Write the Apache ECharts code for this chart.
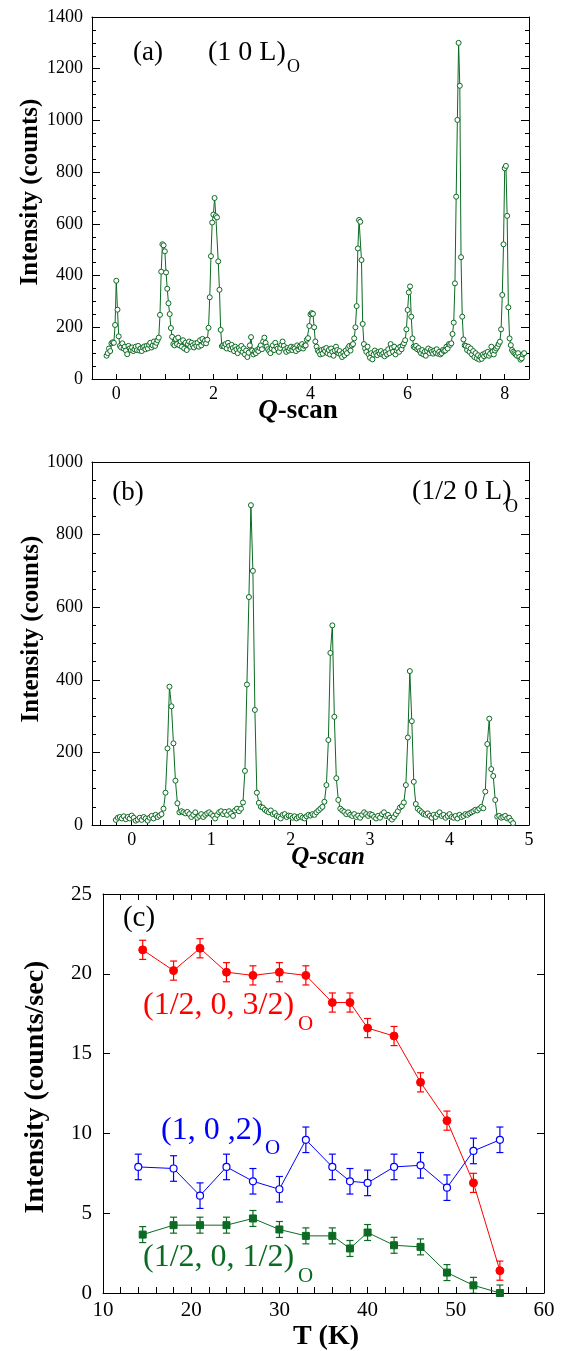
<!DOCTYPE html>
<html><head><meta charset="utf-8">
<script src="https://cdn.jsdelivr.net/npm/echarts@6/dist/echarts.min.js"></script>
<style>html,body{margin:0;padding:0;background:#fff}#c{width:565px;height:1351px}</style>
</head><body><div id="c"></div>
<script>
// ---------- Panel (a): (1 0 L)_O scan ----------
const scanA_qStart = -0.2;
const scanA_qStep = 0.025;
const scanA_counts = [
 90,100,118,108,138,142,140,209,380,268,165,128,122,138,118,125,110,96,128,118,
 112,122,108,115,125,112,128,110,118,108,122,126,115,128,118,132,140,122,130,145,
 128,140,150,160,248,415,521,517,494,412,349,293,251,197,163,135,130,155,135,160,
 130,145,125,150,118,140,112,135,145,125,140,130,122,138,128,140,125,150,130,155,
 140,148,138,152,198,316,475,605,636,700,630,625,455,345,190,127,130,125,135,118,
 140,128,115,132,120,108,125,115,100,120,112,128,105,118,95,110,85,102,130,162,
 110,95,105,100,112,108,120,130,115,145,160,140,125,115,108,100,118,130,112,140,
 125,118,105,120,132,145,128,115,105,120,110,118,125,112,122,118,108,130,115,125,
 120,135,118,128,130,152,158,205,250,255,252,200,145,125,110,105,95,112,98,115,
 108,120,100,112,95,118,105,90,110,125,112,100,108,95,85,102,92,110,100,120,
 128,110,130,135,157,200,282,505,615,608,460,213,135,118,105,125,95,82,100,76,
 95,110,100,92,105,98,108,95,100,88,105,95,115,100,135,120,105,125,95,110,
 118,105,125,115,130,138,150,192,267,335,358,241,157,125,122,128,115,120,108,100,
 112,95,105,90,108,118,100,112,105,98,110,102,115,98,105,95,100,112,108,110,
 125,118,135,132,138,174,218,370,705,1002,1300,1134,471,241,153,130,128,112,125,105,
 118,95,108,85,100,80,92,75,85,78,95,88,100,92,105,90,98,125,105,95,
 110,118,125,135,144,192,325,521,815,824,631,277,157,131,112,105,100,95,90,100,
 85,75,80,95,100
];
const axisA_yTicks = { min: 0, max: 1400, step: 200, minorStep: 50 };
const axisA_xTicks = { min: -0.5, max: 8.5, step: 0.5 };

// ---------- Panel (b): (1/2 0 L)_O scan ----------
const scanB_qStart = -0.2;
const scanB_qStep = 0.025;
const scanB_counts = [
 14,20,22,18,24,16,22,18,26,20,12,15,20,14,22,18,12,20,25,18,
 28,22,26,30,45,89,211,381,327,225,122,60,35,38,35,32,36,30,22,28,
 35,20,25,30,22,28,32,35,30,25,18,28,35,38,30,36,28,38,32,25,
 40,45,38,45,62,149,387,628,881,700,317,89,61,50,48,42,38,35,40,30,
 33,25,22,18,28,30,22,26,25,20,24,18,22,25,20,18,24,28,26,30,
 28,35,40,45,50,64,110,234,474,550,298,129,69,45,40,36,30,35,28,25,
 30,22,26,20,28,35,30,25,30,28,22,18,25,20,30,35,25,28,20,15,
 22,30,38,48,52,62,110,241,424,286,119,58,45,40,35,30,28,32,25,20,
 28,22,30,35,25,28,20,25,30,22,20,25,18,28,22,25,30,28,32,35,
 38,42,40,45,50,46,92,223,293,154,135,69,23,25,20,22,25,18,20,12,
 5
];
const axisB_yTicks = { min: 0, max: 1000, step: 200, minorStep: 50 };
const axisB_xTickValues = [-0.4,-0.2,0,0.2,0.4,0.6,0.8,1,1.2,1.4,1.6,1.8,2,2.2,2.4,2.6,2.8,3,3.2,3.4,3.6,3.8,4,4.2,4.4,4.6,4.8,5];
const axisB_xLabelValues = [0,1,2,3,4,5];

// ---------- Panel (c): temperature dependence ----------
const tempHalfThreeHalf = [14.5,18,21,24,27,30,33,36,38,40,43,46,49,52,55];
const intHalfThreeHalf  = [21.5,20.2,21.6,20.1,19.9,20.1,19.9,18.2,18.2,16.6,16.1,13.2,10.8,6.9,1.4];
const errHalfThreeHalf  = [0.6,0.6,0.6,0.6,0.6,0.6,0.6,0.6,0.6,0.6,0.6,0.6,0.6,0.6,0.6];
const tempOneZeroTwo = [14,18,21,24,27,30,33,36,38,40,43,46,49,52,55];
const intOneZeroTwo  = [7.9,7.8,6.1,7.9,7.0,6.5,9.6,7.9,7.0,6.9,7.9,8.0,6.6,8.9,9.6];
const errOneZeroTwo  = [0.8,0.8,0.8,0.8,0.8,0.8,0.8,0.8,0.8,0.8,0.8,0.8,0.8,0.8,0.8];
const tempHalfHalf = [14.5,18,21,24,27,30,33,36,38,40,43,46,49,52,55];
const intHalfHalf  = [3.66,4.25,4.25,4.25,4.67,3.98,3.58,3.58,2.79,3.79,2.99,2.89,1.28,0.48,0.0];
const errHalfHalf  = [0.5,0.5,0.5,0.5,0.5,0.5,0.5,0.5,0.5,0.5,0.5,0.5,0.5,0.5,0.5];

// ---------- build ----------
const FF = '"Liberation Serif","Times New Roman",serif';
const GREEN = '#0b6b22';
const RED = '#ff0000';
const BLUE = '#0000ff';

const scanA = scanA_counts.map((v, i) => [+(scanA_qStart + i * scanA_qStep).toFixed(4), v]);
const scanB = scanB_counts.map((v, i) => [+(scanB_qStart + i * scanB_qStep).toFixed(4), v]);

function isInt(v) { return Math.abs(v - Math.round(v)) < 1e-6; }
const lineBlack = { show: true, onZero: false, lineStyle: { color: '#000', width: 1 } };
const noLine = { show: false, onZero: false };
const lbl = (fs, extra) => Object.assign({ color: '#000', fontFamily: FF, fontSize: fs }, extra || {});

function frameX(grid, min, max) {
  return { gridIndex: grid, type: 'value', position: 'top', min, max, axisLine: lineBlack,
    axisTick: { show: false }, axisLabel: { show: false }, splitLine: { show: false } };
}

const xAxis = [
  { gridIndex: 0, type: 'value', position: 'bottom', min: axisA_xTicks.min, max: axisA_xTicks.max, interval: axisA_xTicks.step,
    axisLine: lineBlack, axisTick: { inside: true, length: 5, lineStyle: { color: '#000' } },
    axisLabel: lbl(18, { margin: 6, formatter: v => (isInt(v) && Math.round(v) % 2 === 0) ? String(Math.round(v)) : '' }),
    splitLine: { show: false } },
  frameX(0, axisA_xTicks.min, axisA_xTicks.max),
  { gridIndex: 1, type: 'value', position: 'bottom', min: -0.5, max: 5,
    axisLine: lineBlack,
    axisTick: { inside: true, length: 5, customValues: axisB_xTickValues, lineStyle: { color: '#000' } },
    axisLabel: lbl(18, { margin: 6, customValues: axisB_xLabelValues, formatter: v => String(Math.round(v)) }),
    splitLine: { show: false } },
  frameX(1, -0.5, 5),
  { gridIndex: 2, type: 'value', position: 'bottom', min: 10, max: 60, interval: 2,
    axisLine: lineBlack, axisTick: { inside: true, length: 6, lineStyle: { color: '#000' } },
    axisLabel: lbl(21, { margin: 7, formatter: v => (isInt(v) && Math.round(v) % 10 === 0) ? String(Math.round(v)) : '' }),
    splitLine: { show: false } },
  { gridIndex: 2, type: 'value', position: 'top', min: 10, max: 60, interval: 2,
    axisLine: lineBlack, axisTick: { inside: true, length: 6, lineStyle: { color: '#000' } },
    axisLabel: { show: false }, splitLine: { show: false } }
];

// each side of a y axis: one axis with major ticks (+labels on the left), one with short minor ticks
function ySide(grid, pos, t, fs, margin, withLabel, majorLen) {
  const out = [
    { gridIndex: grid, type: 'value', position: pos, min: t.min, max: t.max, interval: t.step,
      axisLine: lineBlack, axisTick: { inside: true, length: majorLen, lineStyle: { color: '#000' } },
      axisLabel: withLabel ? lbl(fs, { margin, formatter: v => String(Math.round(v)) }) : { show: false },
      splitLine: { show: false } }
  ];
  if (t.minorStep) {
    out.push({ gridIndex: grid, type: 'value', position: pos, offset: 0, min: t.min, max: t.max, interval: t.minorStep,
      axisLine: noLine, axisTick: { show: true, inside: true, length: 4, lineStyle: { color: '#000' } },
      axisLabel: { show: false }, splitLine: { show: false } });
  }
  return out;
}
const axisC_yTicks = { min: 0, max: 25, step: 5 };
const yAxis = [].concat(
  ySide(0, 'left', axisA_yTicks, 18, 9, true, 8),   // 0,1
  ySide(0, 'right', axisA_yTicks, 18, 9, false, 8), // 2,3
  ySide(1, 'left', axisB_yTicks, 18, 9, true, 8),   // 4,5
  ySide(1, 'right', axisB_yTicks, 18, 9, false, 8), // 6,7
  ySide(2, 'left', axisC_yTicks, 21, 11, true, 7),  // 8
  ySide(2, 'right', axisC_yTicks, 21, 11, false, 7) // 9
);

function scanSeries(data, xi, yi) {
  return { type: 'line', xAxisIndex: xi, yAxisIndex: yi, data, symbol: 'circle', symbolSize: 5,
    showAllSymbol: true, lineStyle: { color: GREEN, width: 1 },
    itemStyle: { color: '#ffffff', borderColor: GREEN, borderWidth: 1 }, z: 3, silent: true };
}
const XC = 4, YC = 8;
function tSeries(T, I, color, symbol, filled, size) {
  return { type: 'line', xAxisIndex: XC, yAxisIndex: YC, data: T.map((t, i) => [t, I[i]]),
    symbol, symbolSize: size, showAllSymbol: true, lineStyle: { color, width: 1 },
    itemStyle: filled ? { color, borderColor: color, borderWidth: 1 } : { color: '#ffffff', borderColor: color, borderWidth: 1.2 },
    z: 4, silent: true };
}
function errSeries(T, I, E, color) {
  return { type: 'custom', xAxisIndex: XC, yAxisIndex: YC, silent: true, z: 3, clip: true,
    data: T.map((t, i) => [t, I[i] - E[i], I[i] + E[i]]),
    encode: { x: 0, y: [1, 2] },
    renderItem: (params, api) => {
      const t = api.value(0);
      const lo = api.coord([t, api.value(1)]);
      const hi = api.coord([t, api.value(2)]);
      const w = 3.5, st = { stroke: color, lineWidth: 1.2 };
      return { type: 'group', children: [
        { type: 'line', shape: { x1: lo[0], y1: lo[1], x2: hi[0], y2: hi[1] }, style: st },
        { type: 'line', shape: { x1: lo[0] - w, y1: lo[1], x2: lo[0] + w, y2: lo[1] }, style: st },
        { type: 'line', shape: { x1: hi[0] - w, y1: hi[1], x2: hi[0] + w, y2: hi[1] }, style: st }
      ] };
    } };
}

function txt(text, x, y, font, color, align, extra) {
  return Object.assign({ type: 'text', x, y, silent: true, z: 10,
    style: { text, font, fill: color || '#000', textAlign: align || 'left', textVerticalAlign: 'middle' } }, extra || {});
}
const graphics = [
  // panel (a)
  txt('(a)', 148, 53, '27px ' + FF, '#000', 'center'),
  txt('(1 0 L)', 208, 53, '28px ' + FF, '#000', 'left'),
  txt('O', 287, 67, '18px ' + FF, '#000', 'left'),
  txt('Intensity (counts)', 31, 192, 'bold 25px ' + FF, '#000', 'center', { rotation: Math.PI / 2 }),
  { type: 'text', x: 298, y: 411, silent: true, z: 10,
    style: { text: '{q|Q}{s|-scan}', textAlign: 'center', textVerticalAlign: 'middle',
      rich: { q: { font: 'italic bold 27px ' + FF, fill: '#000' }, s: { font: 'bold 27px ' + FF, fill: '#000' } } } },
  // panel (b)
  txt('(b)', 128, 493, '27px ' + FF, '#000', 'center'),
  txt('(1/2 0 L)', 412, 492, '28px ' + FF, '#000', 'left'),
  txt('O', 505, 507, '18px ' + FF, '#000', 'left'),
  txt('Intensity (counts)', 32, 629, 'bold 25px ' + FF, '#000', 'center', { rotation: Math.PI / 2 }),
  txt('Q-scan', 328, 858, 'italic bold 25px ' + FF, '#000', 'center'),
  // panel (c)
  txt('(c)', 139, 918, '29px ' + FF, '#000', 'center'),
  txt('(1/2, 0, 3/2)', 143, 1006, '32px ' + FF, RED, 'left'),
  txt('O', 298, 1024, '21px ' + FF, RED, 'left'),
  txt('(1, 0 ,2)', 161, 1131, '32px ' + FF, BLUE, 'left'),
  txt('O', 265, 1148, '21px ' + FF, BLUE, 'left'),
  txt('(1/2, 0, 1/2)', 143, 1258, '32px ' + FF, GREEN, 'left'),
  txt('O', 298, 1276, '21px ' + FF, GREEN, 'left'),
  txt('Intensity (counts/sec)', 36, 1087, 'bold 28px ' + FF, '#000', 'center', { rotation: Math.PI / 2 }),
  txt('T (K)', 326, 1337, 'bold 28px ' + FF, '#000', 'center')
];

const option = {
  animation: false,
  backgroundColor: '#ffffff',
  grid: [
    { left: 92, top: 17, width: 437, height: 362 },
    { left: 92, top: 462, width: 437, height: 363 },
    { left: 103, top: 894, width: 441, height: 399 }
  ],
  xAxis, yAxis,
  series: [
    scanSeries(scanA, 0, 0),
    scanSeries(scanB, 2, 4),
    errSeries(tempHalfThreeHalf, intHalfThreeHalf, errHalfThreeHalf, RED),
    errSeries(tempOneZeroTwo, intOneZeroTwo, errOneZeroTwo, BLUE),
    errSeries(tempHalfHalf, intHalfHalf, errHalfHalf, GREEN),
    tSeries(tempHalfThreeHalf, intHalfThreeHalf, RED, 'circle', true, 8),
    tSeries(tempOneZeroTwo, intOneZeroTwo, BLUE, 'circle', false, 7),
    tSeries(tempHalfHalf, intHalfHalf, GREEN, 'rect', true, 7)
  ],
  graphic: graphics
};
const chart = echarts.init(document.getElementById('c'), null, { renderer: 'canvas' });
chart.setOption(option);
</script></body></html>
